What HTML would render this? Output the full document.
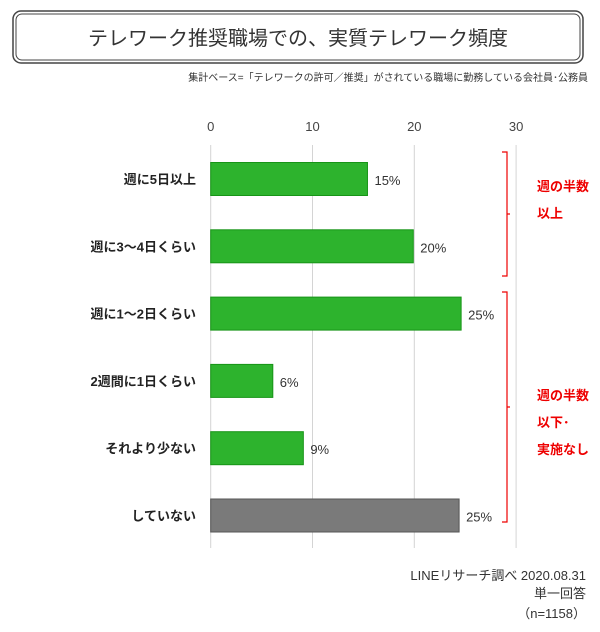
<!DOCTYPE html>
<html><head><meta charset="utf-8"><style>
body{margin:0;background:#fff;}
svg text{font-family:"Liberation Sans","Noto Sans CJK JP",sans-serif;}
</style></head><body>
<svg width="600" height="627" viewBox="0 0 600 627">
<rect x="13" y="11" width="570" height="52" rx="8" fill="#fff" stroke="#444" stroke-width="1.5"/>
<rect x="16" y="14" width="564" height="46" rx="6" fill="none" stroke="#444" stroke-width="1"/>
<text x="298" y="45" text-anchor="middle" font-size="20" fill="#333">テレワーク推奨職場での、実質テレワーク頻度</text>
<text x="588" y="81" text-anchor="end" font-size="10" fill="#333">集計ベース=「テレワークの許可／推奨」がされている職場に勤務している会社員･公務員</text>
<g id="grid"></g><g id="bars"></g>
<path d="M502,152 h5 v62 l3,0 l-3,0 v62 h-5" fill="none" stroke="#e00" stroke-width="1.2"/>
<path d="M502,292 h5 v115 l3,0 l-3,0 v115 h-5" fill="none" stroke="#e00" stroke-width="1.2"/>
<text font-size="13" font-weight="bold" fill="#e00"><tspan x="537" y="191">週の半数</tspan><tspan x="537" y="218">以上</tspan></text>
<text font-size="13" font-weight="bold" fill="#e00"><tspan x="537" y="400">週の半数</tspan><tspan x="537" y="427">以下･</tspan><tspan x="537" y="454">実施なし</tspan></text>
<text font-size="13" fill="#333" text-anchor="end"><tspan x="586" y="580">LINEリサーチ調べ 2020.08.31</tspan><tspan x="586" y="598">単一回答</tspan><tspan x="586" y="618">（n=1158）</tspan></text>
</svg>
<script>
const categories=["週に5日以上","週に3〜4日くらい","週に1〜2日くらい","2週間に1日くらい","それより少ない","していない"];
const values=[15.4,19.9,24.6,6.1,9.1,24.4];
const valueLabels=["15%","20%","25%","6%","9%","25%"];
const ticks=[0,10,20,30];
const ns="http://www.w3.org/2000/svg";
const x=v=>210.7+v*10.18;
const y=i=>179+i*67.3;
function mk(tag,attrs,parent,text){const e=document.createElementNS(ns,tag);for(const k in attrs)e.setAttribute(k,attrs[k]);if(text!=null)e.textContent=text;parent.appendChild(e);return e;}
const g=document.getElementById('grid'),b=document.getElementById('bars');
ticks.forEach(t=>{
 const l=mk('line',{x1:x(t),x2:x(t),y1:145,y2:548,stroke:'#d4d4d4','stroke-width':1},g);
 
 
 const tx=mk('text',{x:x(t),y:131,'text-anchor':'middle','font-size':13,fill:'#444'},g,String(t));
 
 
});
categories.forEach((c,i)=>{
 const last=i===categories.length-1;
 const r=mk('rect',{x:x(0),y:y(i)-16.5,width:x(values[i])-x(0),height:33,fill:last?'#7a7a7a':'#2db32d',stroke:last?'#555':'#179417','stroke-width':1},b);
 
 
 const cl=mk('text',{x:196,y:y(i)+5,'text-anchor':'end','font-size':13,'font-weight':'bold',fill:'#222'},b,c);
 
 
 const vl=mk('text',{x:x(values[i])+7,y:y(i)+6,'font-size':13,fill:'#333'},b,valueLabels[i]);
 
 
});
</script>
</body></html>
